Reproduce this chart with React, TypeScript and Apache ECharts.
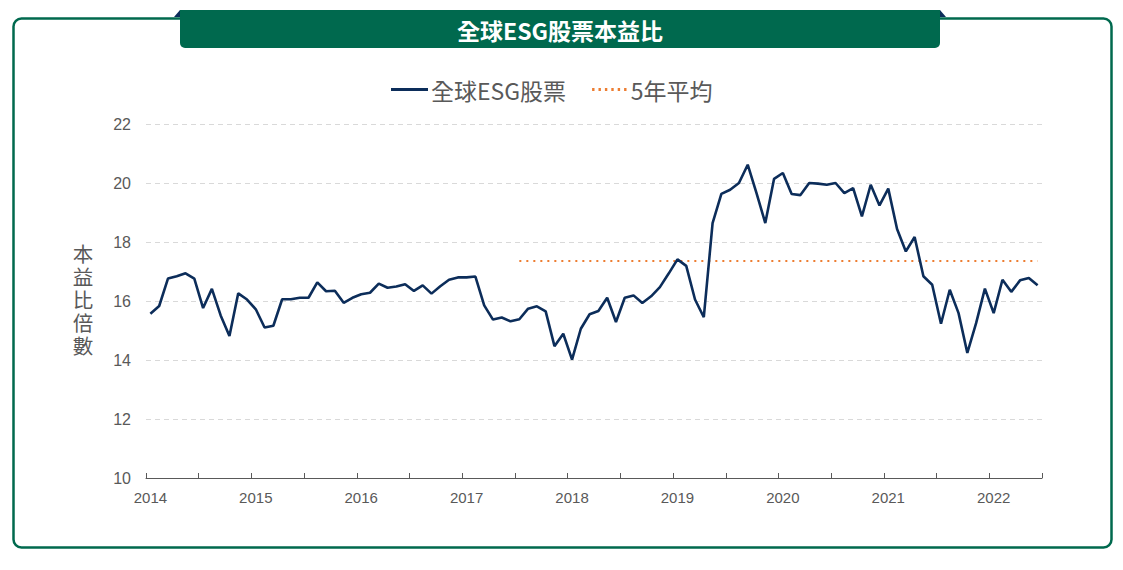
import React, { useEffect, useRef } from "react";
import * as echarts from "echarts";

const years = [2014, 2015, 2016, 2017, 2018, 2019, 2020, 2021, 2022];
const months = ["01", "02", "03", "04", "05", "06", "07", "08", "09", "10", "11", "12"];
const lastMonthOf2022 = 6;

const esgPE = [
  15.57, 15.83, 16.76, 16.84, 16.94, 16.76, 15.76, 16.41, 15.51, 14.81, 16.26, 16.05,
  15.72, 15.10, 15.16, 16.06, 16.06, 16.11, 16.11, 16.63, 16.33, 16.35, 15.94, 16.11,
  16.23, 16.28, 16.59, 16.45, 16.49, 16.57, 16.34, 16.53, 16.25, 16.50, 16.72, 16.80,
  16.80, 16.83, 15.85, 15.37, 15.44, 15.31, 15.38, 15.74, 15.82, 15.65, 14.47, 14.89,
  14.01, 15.06, 15.55, 15.66, 16.11, 15.29, 16.11, 16.19, 15.93, 16.16, 16.47, 16.93,
  17.41, 17.19, 16.05, 15.45, 18.64, 19.63, 19.77, 20.00, 20.62, 19.66, 18.64, 20.14,
  20.34, 19.63, 19.59, 20.00, 19.98, 19.94, 20.00, 19.66, 19.83, 18.87, 19.94, 19.24,
  19.81, 18.44, 17.68, 18.17, 16.84, 16.55, 15.23, 16.38, 15.59, 14.24, 15.25, 16.42,
  15.59, 16.72, 16.31, 16.70, 16.78, 16.53,
];

const fiveYearAvg = 17.36;
const fiveYearAvgStart = "2017-07";

const yTicks = [10, 12, 14, 16, 18, 20, 22];

const seriesNames = ["全球ESG股票", "5年平均"];
const titleText = "全球ESG股票本益比";
const yAxisTitle = "本益比倍數";

const categories: string[] = [];
years.forEach((y) => {
  const n = y === 2022 ? lastMonthOf2022 : 12;
  for (let i = 0; i < n; i++) categories.push(`${y}-${months[i]}`);
});

const avgStartIdx = categories.indexOf(fiveYearAvgStart);
const avgData = categories.map((_, i) => (i >= avgStartIdx ? fiveYearAvg : null));

const GREEN = "#00694E";
const NAVY = "#0C2D5A";
const ORANGE = "#ED7D31";
const GREY = "#595959";
const FONT = "'Noto Sans CJK TC', 'Noto Sans', sans-serif";
const TIGHT_FONT = "'Liberation Sans', 'Noto Sans CJK TC', sans-serif";

// legend icon shapes
const lineIcon = "path://M0,0H37V3H0Z";
const dotsIcon =
  "path://M0,0h2.4v3h-2.4zM6.4,0h2.4v3h-2.4zM12.8,0h2.4v3h-2.4zM19.2,0h2.4v3h-2.4zM25.6,0h2.4v3h-2.4zM32,0h2.4v3h-2.4z";

export default function App() {
  const ref = useRef<HTMLDivElement>(null);

  useEffect(() => {
    if (!ref.current) return;
    const chart = echarts.init(ref.current, undefined, { renderer: "svg" });
    const yTitleChars = yAxisTitle.split("").map((ch, i) => ({
      type: "text",
      z: 4,
      x: 83,
      y: 254 + i * 23,
      style: {
        text: ch,
        fill: GREY,
        font: `20.5px ${TIGHT_FONT}`,
        textAlign: "center",
        textVerticalAlign: "middle",
      },
    }));
    chart.setOption({
      animation: false,
      backgroundColor: "#ffffff",
      textStyle: { fontFamily: FONT },
      legend: {
        data: [
          { name: seriesNames[0], icon: lineIcon, itemStyle: { color: NAVY, borderWidth: 0 } },
          { name: seriesNames[1], icon: dotsIcon, itemStyle: { color: ORANGE, borderWidth: 0 } },
        ],
        top: 73,
        left: 386,
        itemWidth: 37,
        itemHeight: 3,
        itemGap: 26,
        textStyle: { color: GREY, fontSize: 23, fontFamily: FONT, padding: [0, 0, 0, -2] },
      },
      grid: { left: 146, right: 81, top: 124, bottom: 92, containLabel: false },
      xAxis: {
        type: "category",
        data: categories,
        boundaryGap: true,
        axisLine: { show: true, lineStyle: { color: GREY, width: 1 } },
        axisTick: { show: true, interval: 5, inside: true, length: 5, lineStyle: { color: GREY } },
        axisLabel: {
          interval: 11,
          color: GREY,
          fontSize: 15,
          fontFamily: "'Liberation Sans', Arial, sans-serif",
          margin: 12,
          formatter: (v: string) => v.slice(0, 4),
        },
        splitLine: { show: false },
      },
      yAxis: {
        type: "value",
        min: yTicks[0],
        max: yTicks[yTicks.length - 1],
        interval: yTicks[1] - yTicks[0],
        axisLine: { show: false },
        axisTick: { show: false },
        axisLabel: {
          color: GREY,
          fontSize: 16,
          fontFamily: "'Liberation Sans', Arial, sans-serif",
          margin: 15,
        },
        splitLine: { show: true, lineStyle: { color: "#D9D9D9", type: [5, 4], width: 1 } },
      },
      series: [
        {
          name: seriesNames[0],
          type: "line",
          data: esgPE,
          symbol: "none",
          lineStyle: { color: NAVY, width: 2.6 },
          itemStyle: { color: NAVY },
          z: 3,
        },
        {
          name: seriesNames[1],
          type: "line",
          data: avgData,
          symbol: "none",
          connectNulls: false,
          lineStyle: { color: ORANGE, width: 2, type: [2, 5] },
          itemStyle: { color: ORANGE },
          z: 2,
        },
      ],
      graphic: [
        {
          type: "rect",
          z: 1,
          shape: { x: 13.5, y: 18.5, width: 1098, height: 529, r: 8 },
          style: { fill: "none", stroke: GREEN, lineWidth: 2.5 },
        },
        {
          type: "polygon",
          z: 2,
          shape: { points: [[174, 17], [180, 10], [180, 17]] },
          style: { fill: NAVY },
        },
        {
          type: "polygon",
          z: 2,
          shape: { points: [[946, 17], [940, 10], [940, 17]] },
          style: { fill: NAVY },
        },
        {
          type: "rect",
          z: 3,
          shape: { x: 180, y: 10, width: 760, height: 38, r: [0, 0, 5, 5] },
          style: { fill: GREEN },
        },
        {
          type: "text",
          z: 4,
          x: 560,
          y: 30,
          style: {
            text: titleText,
            fill: "#ffffff",
            font: `bold 23px ${FONT}`,
            textAlign: "center",
            textVerticalAlign: "middle",
          },
        },
        ...yTitleChars,
      ],
    });
    return () => chart.dispose();
  }, []);

  return (
    <div
      ref={ref}
      style={{ position: "absolute", left: 0, top: 0, width: 1123, height: 570 }}
    />
  );
}
